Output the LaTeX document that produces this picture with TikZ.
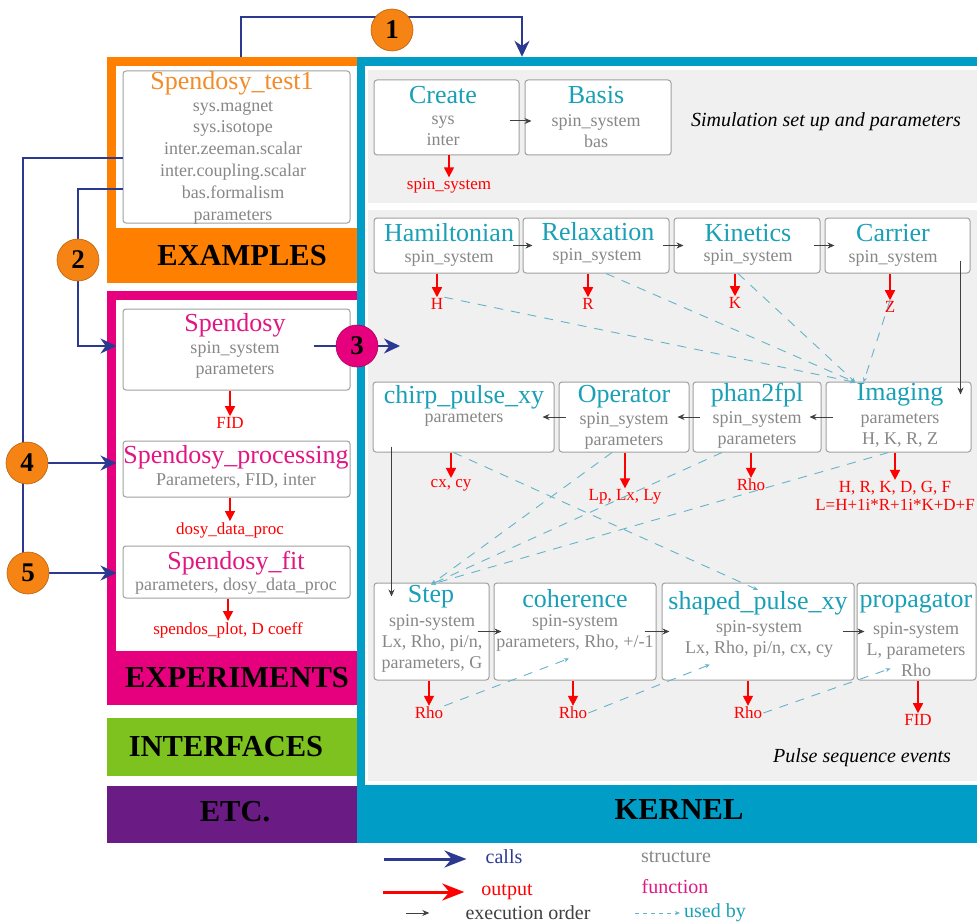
\documentclass[tikz,border=0pt]{standalone}
\usepackage{fontspec}
\setmainfont{Liberation Serif}
\usetikzlibrary{arrows.meta, fit}

\definecolor{exorange}{RGB}{255,128,0}
\definecolor{testorange}{RGB}{243,140,40}
\definecolor{numorange}{RGB}{245,132,20}
\definecolor{expmag}{RGB}{230,0,126}
\definecolor{fnmag}{RGB}{226,22,130}
\definecolor{kblue}{RGB}{0,157,198}
\definecolor{kteal}{RGB}{25,160,182}
\definecolor{ifgreen}{RGB}{125,194,30}
\definecolor{etcpurple}{RGB}{107,27,132}
\definecolor{callblue}{RGB}{43,57,144}
\definecolor{usedby}{RGB}{100,180,200}
\definecolor{txtgray}{RGB}{135,135,135}
\definecolor{boxgray}{RGB}{160,160,160}
\definecolor{bggray}{RGB}{240,240,240}
\definecolor{execgray}{RGB}{64,64,64}

\newcommand{\setfs}[2]{\fontsize{#1}{#2}\selectfont}

\pgfdeclarelayer{front}
\pgfsetlayers{main,front}

\tikzset{
  box/.style={draw=boxgray, line width=1pt, rounded corners=3pt, fill=white, inner sep=0pt},
  ttl/.style={text=kteal, font=\setfs{26}{28}, inner sep=1pt},
  fttl/.style={ttl, text=fnmag},
  sub/.style={text=txtgray, font=\setfs{18}{21}, align=center, inner sep=1pt},
  res/.style={text=red, font=\setfs{17}{18.5}, align=center, inner sep=1pt},
  band/.style={font=\bfseries\setfs{30.5}{32}, text=black, inner sep=0pt},
  note/.style={font=\itshape\setfs{20}{22}, text=black},
  lgd/.style={font=\setfs{20}{22}, inner sep=1pt},
  num/.style={circle, fill=numorange, draw=numorange!75!black, line width=0.6pt,
    minimum size=42pt, inner sep=0pt, font=\bfseries\setfs{27}{27}},
  calls/.style={draw=callblue, line width=2pt, -{Stealth[length=16pt,width=15pt]}},
  callline/.style={draw=callblue, line width=2pt},
  outp/.style={draw=red, line width=1.5pt, -{Triangle[length=10pt,width=10pt]}},
  exec/.style={draw=execgray, line width=1pt, -{Stealth[length=7pt,width=6pt]}},
  used/.style={draw=usedby, line width=0.9pt, dash pattern=on 9pt off 8pt,
    -{Stealth[length=5pt,width=4pt]}},
}

\begin{document}
\begin{tikzpicture}[x=1pt, y=-1pt]
\useasboundingbox (0,0) rectangle (977,923);

% numbered calls, on top of the blue lines
\begin{pgfonlayer}{front}
\foreach \n/\x/\y in {1/392/30, 2/78/260, 4/27/463, 5/28/573}
  \node[num] (c\n) at (\x,\y) {\n};
\node[num, fill=expmag, draw=expmag!75!black] (c3) at (357,346) {3};
\end{pgfonlayer}

% coloured frames
\node[fill=exorange, fit={(107,57) (357,283)}, inner sep=0pt] (examples) {};
\fill[white] (116,66) rectangle (357,228);
\node[fill=expmag, fit={(107,291) (357,705)}, inner sep=0pt] (experiments) {};
\fill[white] (116,300) rectangle (357,651);
\node[fill=ifgreen, fit={(107,718) (357,776)}, inner sep=0pt] (interfaces) {};
\node[fill=etcpurple, fit={(107,786) (357,843)}, inner sep=0pt] (etc) {};
\node[fill=kblue, fit={(357,57) (977,843)}, inner sep=0pt] (kernel) {};
\fill[white] (365,66) rectangle (977,785);
\fill[bggray] (368,70) rectangle (977,203);
\fill[bggray] (368,210) rectangle (977,781);

\node[band] (examples-l) at (242,256) {EXAMPLES};
\node[band] (experiments-l) at (237,678) {EXPERIMENTS};
\node[band] (interfaces-l) at (226,747) {INTERFACES};
\node[band] (etc-l) at (235,812) {ETC.};
\node[band] (kernel-l) at (679,810) {KERNEL};

\node[note] (setup-n) at (826,122) {Simulation set up and parameters};
\node[note] (pulse-n) at (862,758) {Pulse sequence events};

% function boxes
\foreach \n/\xa/\ya/\xb/\yb in {
    test/123/71/350/223, spendosy/123/309/350/390, proc/123/441/350/497, spfit/123/546/350/598,
    create/374/80/519/155, basis/525/80/671/155,
    ham/374/218/519/273, relax/523/218/669/273, kin/674/218/820/273, carrier/825/218/970/273,
    chirp/373/382/554/452, oper/559/382/689/452, phan/693/382/821/452, imag/826/382/971/452,
    step/374/583/489/680, coh/494/583/656/680, shaped/662/583/854/680, prop/857/583/976/680}
    \node[box, fit={(\xa,\ya) (\xb,\yb)}] (\n) {};

\node[ttl, text=testorange] (test-t) at (232,83) {Spendosy\_test1};
\node[sub, font=\setfs{18}{21.8}] (test-s) at (233,162.5)
  {sys.magnet\\sys.isotope\\inter.zeeman.scalar\\inter.coupling.scalar\\bas.formalism\\parameters};

\foreach \n/\x/\y/\t in {
    spendosy/235/325/Spendosy, proc/236/457/{Spendosy\_processing}, spfit/236/563/{Spendosy\_fit}}
    \node[fttl] (\n-t) at (\x,\y) {\t};

\foreach \n/\x/\y/\t in {
    create/443/95/Create, basis/596/95/Basis,
    ham/449/233/Hamiltonian, relax/598/232/Relaxation, kin/748/233/Kinetics, carrier/893/233/Carrier,
    chirp/464/397/{chirp\_pulse\_xy}, oper/624/397/Operator, phan/757/395/phan2fpl, imag/900/395/Imaging,
    step/431/597/Step, coh/575/599/coherence, shaped/758/603/{shaped\_pulse\_xy}, prop/916/603/propagator}
    \node[ttl] (\n-t) at (\x,\y) {\t};

\foreach \n/\x/\y/\t in {
    spendosy/235/360/{spin\_system\\parameters}, proc/236/481/{Parameters, FID, inter},
    spfit/236/586/{parameters, dosy\_data\_proc},
    create/443/131/{sys\\inter}, basis/596/131/{spin\_system\\bas},
    ham/449/258/{spin\_system}, relax/597/256/{spin\_system}, kin/748/257/{spin\_system},
    carrier/893/258/{spin\_system},
    chirp/464/419/parameters, oper/624/431/{spin\_system\\parameters},
    phan/757/430/{spin\_system\\parameters}, imag/900/430/{parameters\\H, K, R, Z},
    step/432/643/{spin-system\\Lx, Rho, pi/n,\\parameters, G},
    coh/575/633/{spin-system\\parameters, Rho, +/-1},
    shaped/759/639/{spin-system\\Lx, Rho, pi/n, cx, cy},
    prop/916/650/{spin-system\\L, parameters\\Rho}}
    \node[sub] (\n-s) at (\x,\y) {\t};

% outputs
\foreach \n/\x/\y/\t/\b in {
    fid/230/423/FID/spendosy, dosyout/230/530/{dosy\_data\_proc}/proc,
    plotout/228/630/{spendos\_plot, D coeff}/spfit,
    sysout/449/186/{spin\_system}/create,
    hout/437/304/H/ham, rout/588/304/R/relax, kout/735/303/K/kin, zout/890/307/Z/carrier,
    cxout/451/485/{cx, cy}/chirp, lpout/625/497/{Lp, Lx, Ly}/oper, rhoout/751/485/Rho/phan,
    imout/895/496/{H, R, K, D, G, F\\L=H+1i*R+1i*K+D+F}/imag,
    rhoA/429/713/Rho/step, rhoB/573/713/Rho/coh, rhoC/748/713/Rho/shaped, fidout/918/720/FID/prop}
{
    \node[res] (\n) at (\x,\y) {\t};
    \draw[outp] (\n.north |- \b.south) -- (\n.north);
}

% execution order
\draw[exec] ([xshift=-10,yshift=-3.5]create.east) -- ([xshift=7,yshift=-3.5]basis.west);
\foreach \a/\b in {ham/relax, relax/kin, kin/carrier}
    \draw[exec] ([xshift=-7]\a.east) -- ([xshift=10]\b.west);
\foreach \a/\b in {imag/phan, phan/oper, oper/chirp}
    \draw[exec] ([xshift=7]\a.west) -- ([xshift=-12]\b.east);
\foreach \a/\b in {step/coh, coh/shaped, shaped/prop}
    \draw[exec] ([xshift=-12]\a.east) -- ([xshift=8]\b.west);
\draw[exec] ([xshift=-10,yshift=-15]carrier.east) -- ([xshift=-11,yshift=-13]imag.north east);
\draw[exec] ([xshift=19,yshift=6]chirp.south west) -- ([xshift=18,yshift=-14]step.north west);

% used by
\draw[used] (hout.north east) -- (imag-t.north west);
\draw[used] ([xshift=10]relax.south) -- (imag-t.north west);
\draw[used] ([xshift=-9]kin.south) -- (imag-t.north west);
\draw[used] (zout.north) -- ([xshift=8]imag-t.north west);
\draw[used] ([xshift=-12]oper.south) -- (step-t.north);
\draw[used] ([xshift=-35]phan.south) -- (step-t.north);
\draw[used] ([xshift=-10]imag.south) -- (step-t.north);
\draw[used] ([xshift=-10]chirp.south) -- (shaped-t.north);
\draw[used] (rhoA.north east) -- ([xshift=-6,yshift=22]coh.south);
\draw[used] (rhoB.east) -- ([xshift=-48,yshift=16]shaped.south);
\draw[used] (rhoC.east) -- ([xshift=-26,yshift=12]prop.south);

% calls
\draw[calls] ([xshift=9]examples.north) -- ++(0,-40) -| ([xshift=-145]kernel.north);
\draw[callline] ([yshift=-11]test.west) -| ([xshift=-5]c5.center);
\draw[calls, shorten >=6pt] (c4) -- (c4 -| proc.west);
\draw[calls, shorten >=6pt] (c5) -- (c5 -| spfit.west);
\draw[calls, shorten >=6pt] ([yshift=-42]test.west) -| (c2.center) |- ([yshift=3.5]spendosy.west);
\draw[calls] ([xshift=-37,yshift=3.5]spendosy.east) -- ([xshift=43]c3.center);

% legend
\node[lgd, text=callblue] (l-calls) at (504,857) {calls};
\node[lgd, text=red] (l-out) at (507,892) {output};
\node[lgd, text=execgray] (l-exec) at (528,913) {execution order};
\node[lgd, text=txtgray] (l-struct) at (676,857) {structure};
\node[lgd, text=fnmag] (l-func) at (675,887) {function};
\node[lgd, text=kteal] (l-used) at (715,913) {used by};
\draw[calls, line width=3pt, -{Stealth[length=22pt,width=17pt]}]
  ([xshift=-100,yshift=-2]l-calls.west) -- ([xshift=-18,yshift=-2]l-calls.west);
\draw[outp, line width=3pt, -{Stealth[length=22pt,width=17pt]}]
  ([xshift=-97]l-out.west) -- ([xshift=-16]l-out.west);
\draw[exec] ([xshift=-58]l-exec.west) -- ([xshift=-35]l-exec.west);
\draw[used, dash pattern=on 4pt off 4pt] ([xshift=-48]l-used.west) -- ([xshift=-3]l-used.west);

\end{tikzpicture}
\end{document}
